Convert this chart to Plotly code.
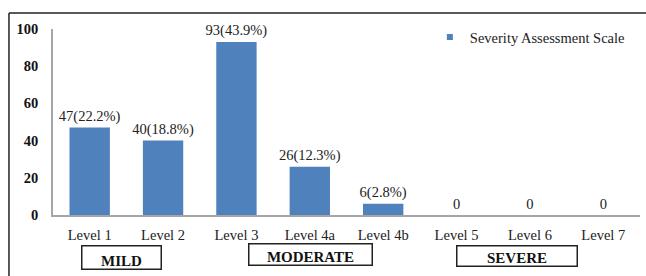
import plotly.graph_objects as go

categories = ["Level 1", "Level 2", "Level 3", "Level 4a", "Level 4b", "Level 5", "Level 6", "Level 7"]
counts = [47, 40, 93, 26, 6, 0, 0, 0]
bar_labels = ["47(22.2%)", "40(18.8%)", "93(43.9%)", "26(12.3%)", "6(2.8%)", "0", "0", "0"]
series_name = "Severity Assessment Scale"
y_ticks = [0, 20, 40, 60, 80, 100]
group_names = ["MILD", "MODERATE", "SEVERE"]
group_centers = [0.44, 3.01, 5.83]  # category index positions

BLUE = "#4F81BD"
SERIF = "Liberation Serif, Times New Roman, serif"

fig = go.Figure()
fig.add_trace(go.Bar(
    x=categories, y=counts, text=bar_labels, textposition="outside",
    constraintext="none",
    textfont=dict(family=SERIF, size=14.5, color="#222"),
    marker=dict(color=BLUE, line=dict(width=0)),
    width=0.55, showlegend=False, cliponaxis=False,
))
fig.add_trace(go.Scatter(
    x=[None], y=[None], mode="markers", name=series_name,
    marker=dict(symbol="square", size=6, color=BLUE),
))

fig.update_layout(
    width=646, height=276,
    margin=dict(l=53, r=6, t=29, b=61),
    paper_bgcolor="white", plot_bgcolor="white",
    font=dict(family=SERIF, size=14.5, color="#222"),
    showlegend=True,
    legend=dict(x=0.642, y=0.957, xanchor="left", yanchor="middle",
                bgcolor="rgba(0,0,0,0)", font=dict(family=SERIF, size=14.5, color="#222"),
                itemwidth=30),
    xaxis=dict(showline=True, linecolor="#a6a6a6", linewidth=1.5, showgrid=False,
               ticks="", ticklabelstandoff=6,
               tickfont=dict(family=SERIF, size=14.5, color="#222")),
    yaxis=dict(range=[0, 100], tickvals=y_ticks, showline=True, linecolor="#a6a6a6",
               linewidth=1.5, showgrid=False, zeroline=False, ticks="",
               ticklabelstandoff=10,
               tickfont=dict(family="Liberation Serif, serif", size=14.5, color="#111", weight="bold")),
)

# group boxes below the axis
box_specs = [(78, 22, -0.231), (122, 20, -0.215), (119, 19, -0.218)]
for name, cx, (w, h, py) in zip(group_names, group_centers, box_specs):
    fig.add_annotation(
        x=cx, xref="x", y=py, yref="paper", text="<b>%s</b>" % name, showarrow=False,
        width=w, height=h, bordercolor="#222", borderwidth=1.5, borderpad=0, valign="bottom",
        font=dict(family=SERIF, size=15, color="#111"), yanchor="middle", xanchor="center",
    )

# outer frame (top and left border lines)
fig.add_shape(type="line", xref="paper", yref="paper", x0=-0.075, x1=1.02, y0=1.086, y1=1.086,
              line=dict(color="#222", width=1.5))
fig.add_shape(type="line", xref="paper", yref="paper", x0=-0.075, x1=-0.075, y0=1.086, y1=-0.35,
              line=dict(color="#222", width=1.5))

fig.write_html("out.html", config={"displayModeBar": False},
               post_script="document.body.style.margin='0';")
